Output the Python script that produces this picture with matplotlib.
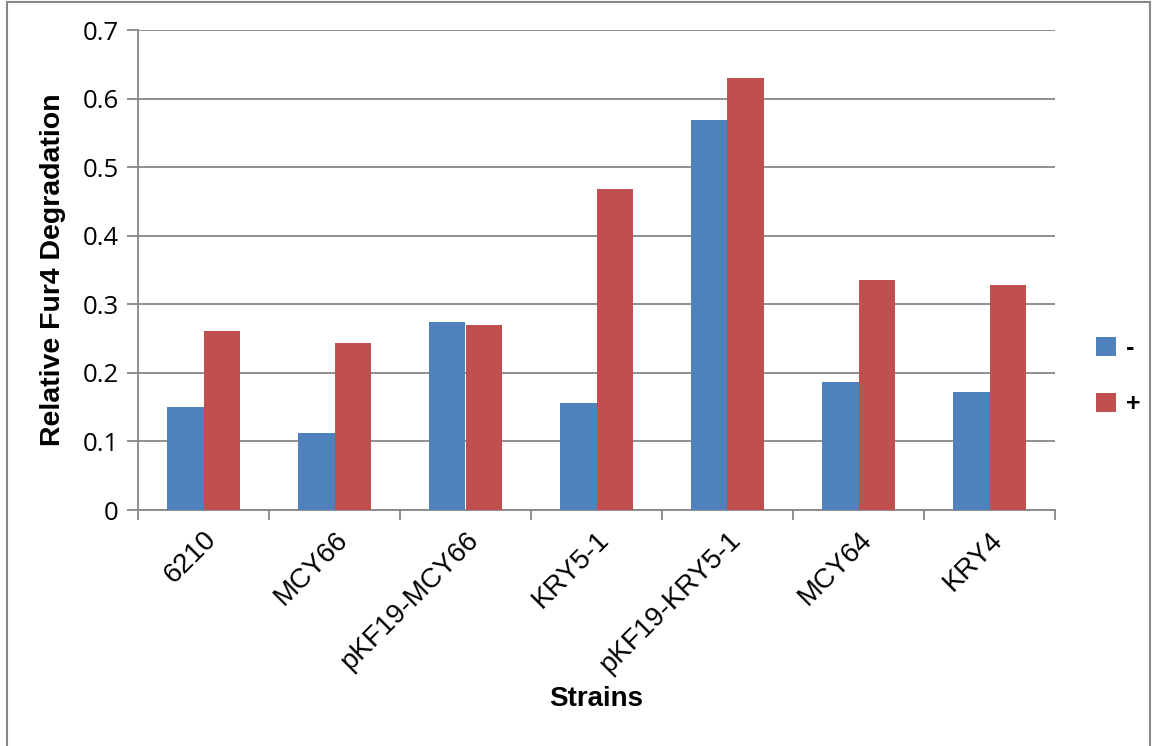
import numpy as np
import matplotlib
matplotlib.use("Agg")
import matplotlib.pyplot as plt
from matplotlib.patches import Rectangle

strains = ["6210", "MCY66", "pKF19-MCY66", "KRY5-1", "pKF19-KRY5-1", "MCY64", "KRY4"]
minus_vals = [0.150, 0.112, 0.274, 0.156, 0.569, 0.187, 0.172]
plus_vals = [0.261, 0.244, 0.270, 0.468, 0.630, 0.335, 0.328]

blue = "#4F81BD"
red = "#C0504D"
grey = "#878787"

fig = plt.figure(figsize=(11.53, 7.46), dpi=100)
ax = fig.add_axes([138/1153, 1-510/746, (1055-138)/1153, 480/746])

x = np.arange(len(strains))
w = 0.28
ax.bar(x - w/2, minus_vals, w, color=blue, label="-", zorder=3)
ax.bar(x + w/2, plus_vals, w, color=red, label="+", zorder=3)

ax.set_xlim(-0.5, len(strains) - 0.5)
ax.set_ylim(0, 0.7)
ax.set_yticks(np.arange(0, 0.71, 0.1))
ax.set_yticklabels(["0", "0.1", "0.2", "0.3", "0.4", "0.5", "0.6", "0.7"],
                   fontsize=18.5, family="Open Sans")
ax.yaxis.grid(True, color=grey, linewidth=1.3, zorder=0)

# category boundary ticks, Excel style
ax.set_xticks(np.arange(-0.5, len(strains), 1.0))
ax.set_xticklabels([])
ax.set_xticks(x, minor=True)
ax.set_xticklabels(strains, minor=True, rotation=45, ha="right", va="top",
                   rotation_mode="anchor", fontsize=20, family="Liberation Sans")
ax.tick_params(axis="x", which="minor", length=0, pad=12)
ax.tick_params(axis="x", which="major", length=7, color=grey, width=1.3)
ax.tick_params(axis="y", length=8, color=grey, width=1.3, pad=6)

for s in ["top", "right"]:
    ax.spines[s].set_visible(False)
for s in ["left", "bottom"]:
    ax.spines[s].set_color(grey)
    ax.spines[s].set_linewidth(1.3)

ax.set_ylabel("Relative Fur4 Degradation", fontsize=20.5, fontweight="bold",
              family="Liberation Sans", labelpad=12)
ax.set_xlabel("Strains", fontsize=20, fontweight="bold", family="Liberation Sans",
              labelpad=6)

leg = fig.legend(loc="center left", bbox_to_anchor=(1096/1153, 1-376/746),
                 frameon=False, borderpad=0, borderaxespad=0,
                 prop={"family": "Liberation Sans", "weight": "bold", "size": 18},
                 handlelength=0.8, handleheight=0.8, handletextpad=0.4, labelspacing=1.3)

fig.patches.append(Rectangle((7/1153, -0.01), (1150-7)/1153, 1-2/746 + 0.01,
                             transform=fig.transFigure, fill=False,
                             edgecolor=grey, linewidth=1.5))

fig.savefig("out.png", dpi=100)
